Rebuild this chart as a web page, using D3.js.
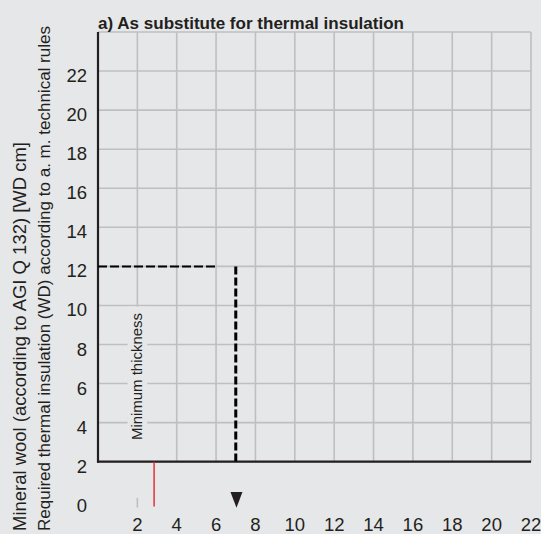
<!DOCTYPE html>
<html><head><meta charset="utf-8">
<script src="https://cdn.jsdelivr.net/npm/d3@7/dist/d3.min.js"></script>
<style>html,body{margin:0;padding:0;background:#e6e7e9;overflow:hidden}svg{display:block}</style>
</head><body>
<svg id="chart" width="541" height="534"></svg>
<script>
// ---- data ----
const titleText = "a) As substitute for thermal insulation";
const yTitleLine1 = "Mineral wool (according to AGI Q 132) [WD cm]";
const yTitleLine2 = "Required thermal insulation (WD) according to a. m. technical rules";
const noteText = "Minimum thickness";
const xTickValues = [2, 4, 6, 8, 10, 12, 14, 16, 18, 20, 22];
const yTickValues = [0, 2, 4, 6, 8, 10, 12, 14, 16, 18, 20, 22];
const gridXValues = [0, 2, 4, 6, 8, 10, 12, 14, 16, 18, 20, 22];
const gridYValues = [2, 4, 6, 8, 10, 12, 14, 16, 18, 20, 22, 24];
const readingWD = [12];
const readingHX = [0, 6];        // horizontal dashed guide extent
const readingVX = [7];           // vertical dashed guide / arrow
const minThicknessX = [2];       // "Minimum thickness" column
const redMarkX = [2.85];         // red marker
const redMarkY = [2, -0.3];
const greyTickX = [2];
const greyTickY = [0.15, -0.35];
const arrowY = [0.45, -0.36];

// ---- layout ----
const svg = d3.select("#chart");
const W = 541, H = 534;
const bg = "#e6e7e9", gridCol = "#bebfc1", ink = "#231f20";
const FONT = "'Liberation Sans', Arial, Helvetica, sans-serif";
const x = d3.scaleLinear().domain([0, 22]).range([98, 531]);
const y = d3.scaleLinear().domain([2, 24]).range([461.7, 32]);

svg.append("rect").attr("width", W).attr("height", H).attr("fill", bg);

// grid
const grid = svg.append("g");
grid.selectAll("line.v").data(gridXValues).join("line")
  .attr("x1", d => x(d)).attr("x2", d => x(d))
  .attr("y1", y(24)).attr("y2", y(2))
  .attr("stroke", gridCol).attr("stroke-width", 1.6);
grid.selectAll("line.h").data(gridYValues).join("line")
  .attr("class", "h")
  .attr("x1", x(0)).attr("x2", x(22))
  .attr("y1", d => y(d)).attr("y2", d => y(d))
  .attr("stroke", gridCol).attr("stroke-width", 1.6);

// knock-out behind "Minimum thickness"
const halfW = (x(1) - x(0)) * 0.5;
svg.append("rect")
  .attr("x", x(minThicknessX[0]) - halfW).attr("width", halfW * 2)
  .attr("y", y(10) + 1.2).attr("height", y(2) - y(10) - 1.2)
  .attr("fill", bg);
svg.append("text")
  .attr("transform", `translate(${x(minThicknessX[0]) + 5},${(y(10) + y(2)) / 2 - 7}) rotate(-90)`)
  .attr("text-anchor", "middle")
  .attr("font-family", FONT).attr("font-size", 14.5).attr("fill", ink)
  .attr("textLength", 127).attr("lengthAdjust", "spacingAndGlyphs")
  .text(noteText);

// axes lines (black)
svg.append("line").attr("x1", x(0)).attr("x2", x(0)).attr("y1", y(24)).attr("y2", y(2) + 1)
  .attr("stroke", ink).attr("stroke-width", 2.2);
svg.append("line").attr("x1", x(0) - 1).attr("x2", x(22)).attr("y1", y(2)).attr("y2", y(2))
  .attr("stroke", ink).attr("stroke-width", 2.2);

// dashed guides
svg.append("line")
  .attr("x1", x(readingHX[0])).attr("x2", x(readingHX[1]))
  .attr("y1", y(readingWD[0])).attr("y2", y(readingWD[0]))
  .attr("stroke", "#000").attr("stroke-width", 2).attr("stroke-dasharray", "9,3");
svg.append("line")
  .attr("x1", x(readingVX[0])).attr("x2", x(readingVX[0]))
  .attr("y1", y(readingWD[0])).attr("y2", y(2))
  .attr("stroke", "#000").attr("stroke-width", 3).attr("stroke-dasharray", "8,3");

// red marker, grey tick, arrow
svg.append("line")
  .attr("x1", x(redMarkX[0])).attr("x2", x(redMarkX[0]))
  .attr("y1", y(redMarkY[0])).attr("y2", y(redMarkY[1]))
  .attr("stroke", "#e8232b").attr("stroke-width", 1.4);
svg.append("line")
  .attr("x1", x(greyTickX[0])).attr("x2", x(greyTickX[0]))
  .attr("y1", y(greyTickY[0])).attr("y2", y(greyTickY[1]))
  .attr("stroke", gridCol).attr("stroke-width", 1.6);
const ax = x(readingVX[0]) + 0.7;
svg.append("path")
  .attr("d", d3.line()([[ax - 6, y(arrowY[0])], [ax + 6, y(arrowY[0])], [ax, y(arrowY[1])]]) + "Z")
  .attr("fill", ink);

// tick labels
svg.append("g").selectAll("text").data(yTickValues).join("text")
  .attr("x", 87).attr("y", d => y(d) + 11)
  .attr("text-anchor", "end")
  .attr("font-family", FONT).attr("font-size", 18.5).attr("fill", ink)
  .text(d => d);
svg.append("g").selectAll("text").data(xTickValues).join("text")
  .attr("x", d => x(d)).attr("y", 530.5)
  .attr("text-anchor", "middle")
  .attr("font-family", FONT).attr("font-size", 18.5).attr("fill", ink)
  .text(d => d);

// title
svg.append("text")
  .attr("x", x(0)).attr("y", 29.3)
  .attr("font-family", FONT).attr("font-size", 17).attr("font-weight", "bold").attr("fill", ink)
  .attr("textLength", 306).attr("lengthAdjust", "spacingAndGlyphs")
  .text(titleText);

// y titles
svg.append("text")
  .attr("transform", "translate(26,531) rotate(-90)")
  .attr("font-family", FONT).attr("font-size", 18.5).attr("fill", ink)
  .attr("textLength", 389).attr("lengthAdjust", "spacingAndGlyphs")
  .text(yTitleLine1);
svg.append("text")
  .attr("transform", "translate(50,531) rotate(-90)")
  .attr("font-family", FONT).attr("font-size", 17.3).attr("fill", ink)
  .attr("textLength", 505).attr("lengthAdjust", "spacingAndGlyphs")
  .text(yTitleLine2);
</script>
</body></html>
